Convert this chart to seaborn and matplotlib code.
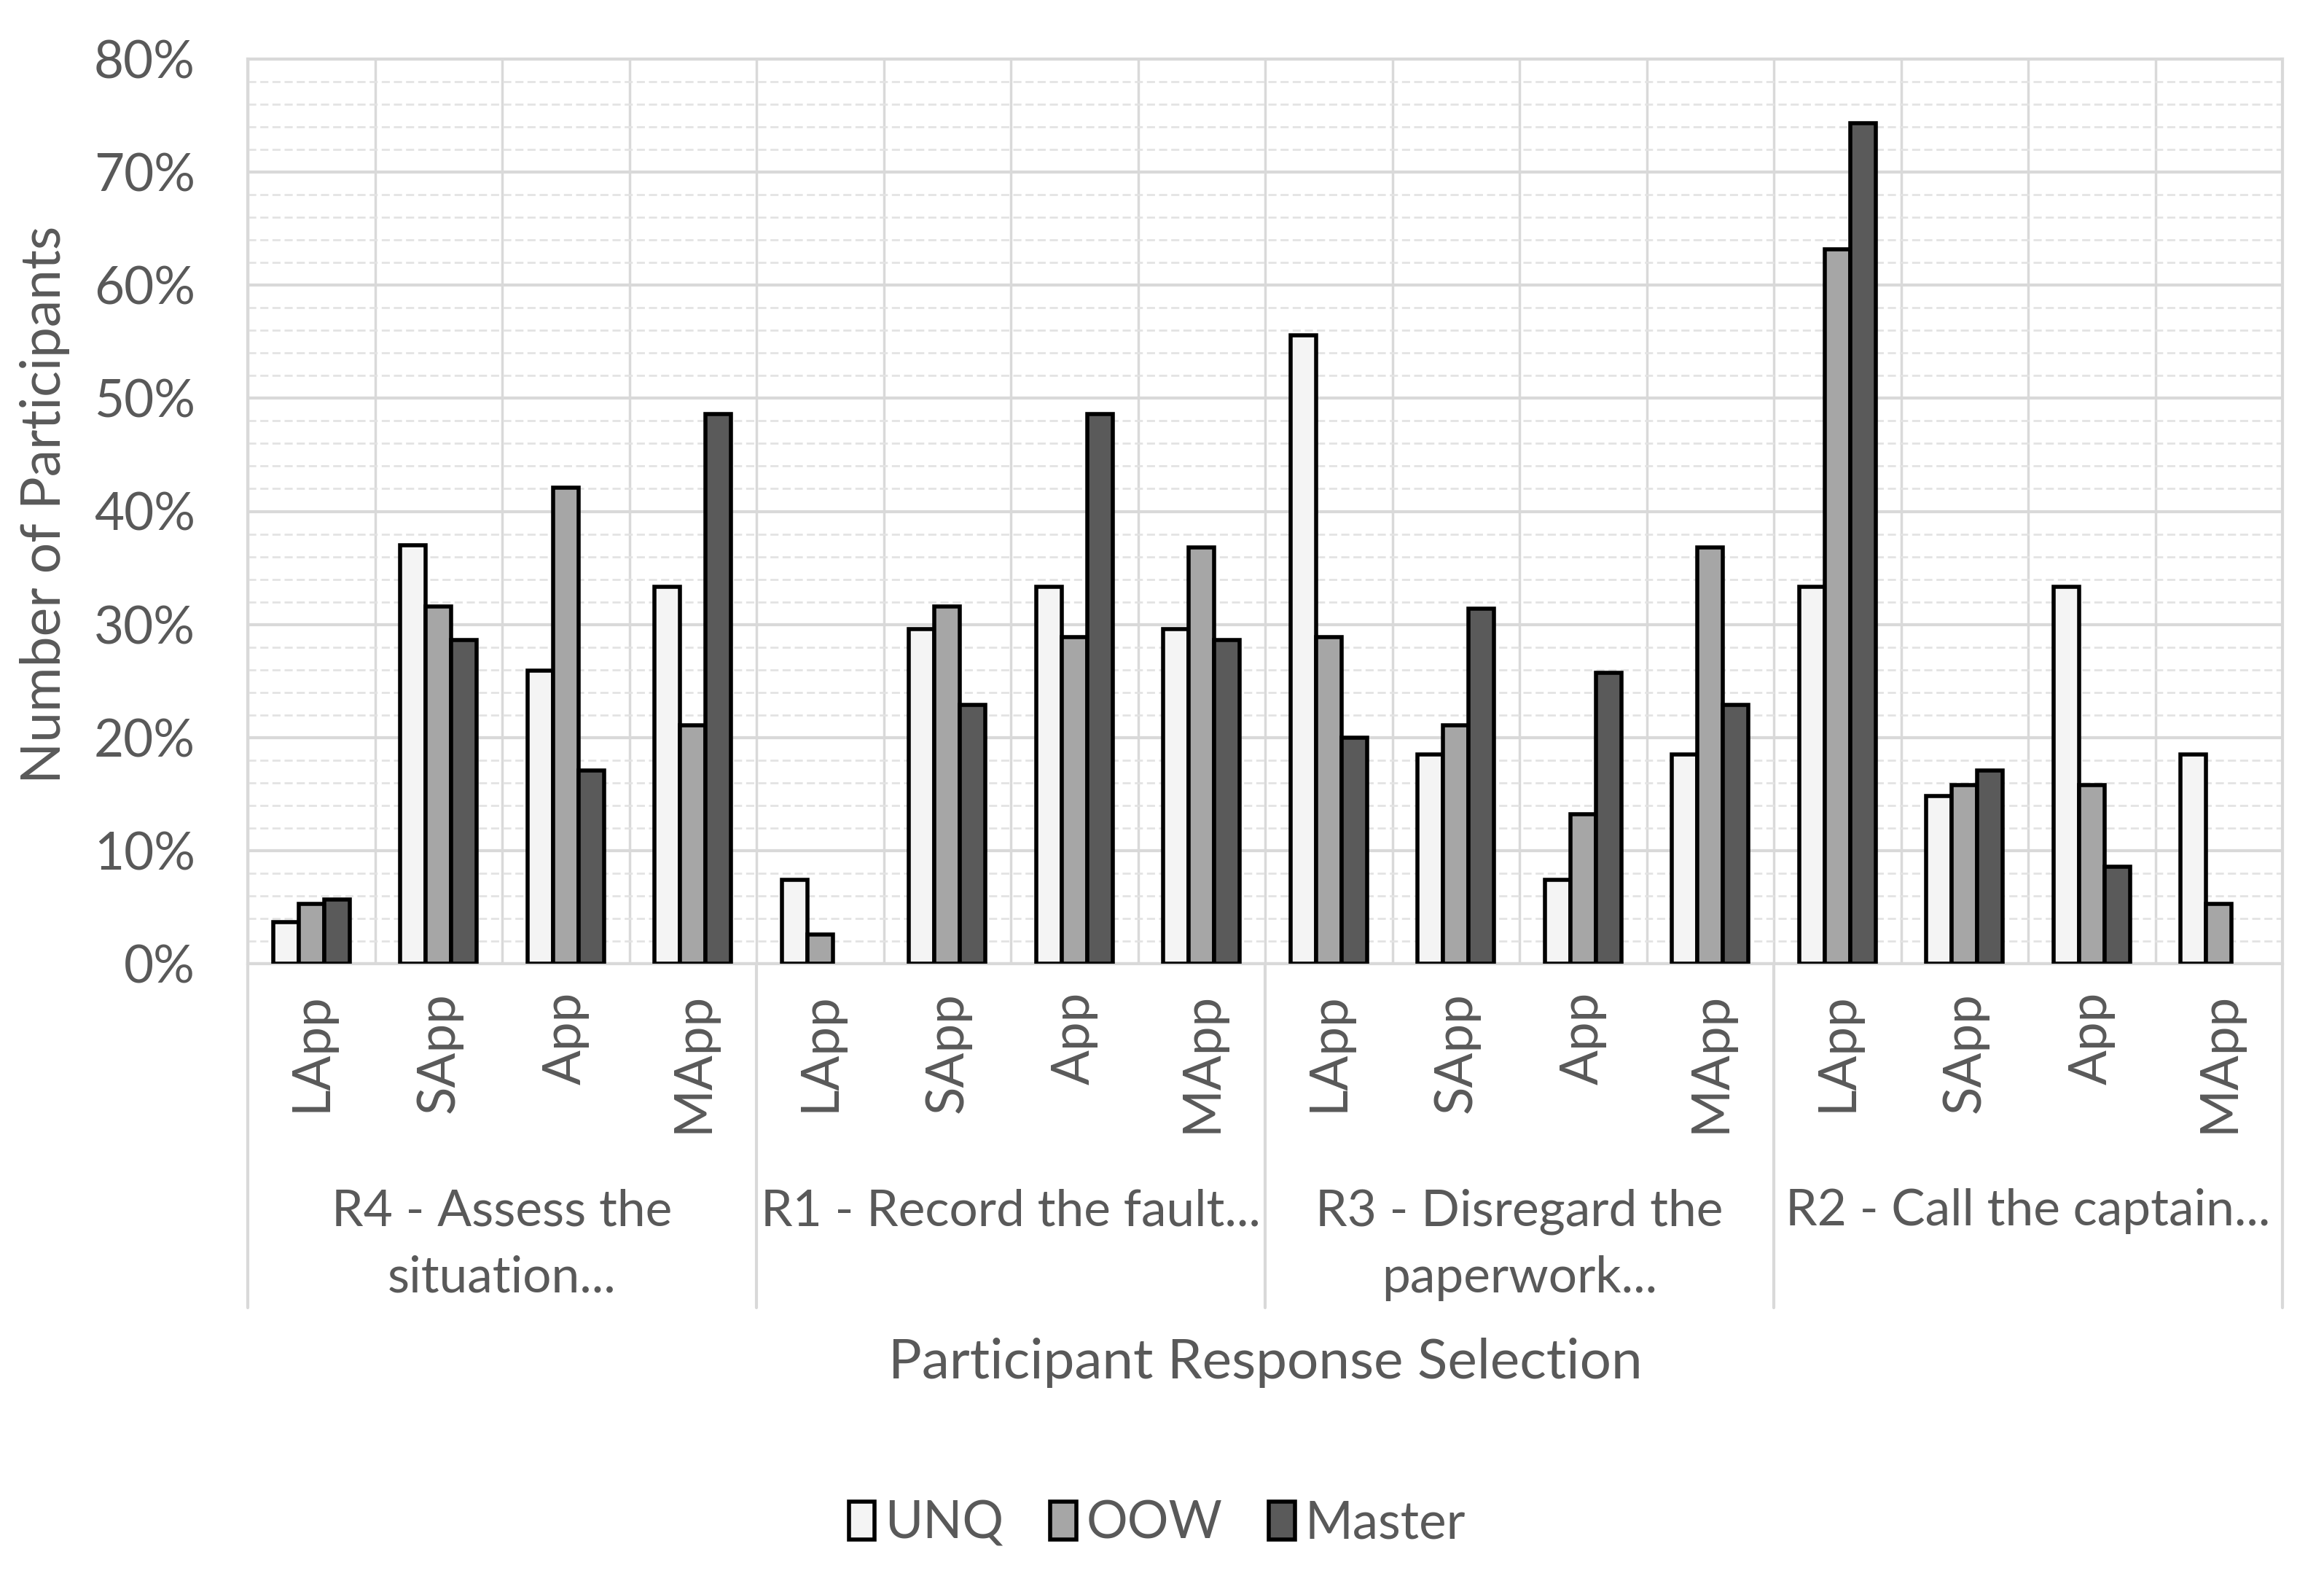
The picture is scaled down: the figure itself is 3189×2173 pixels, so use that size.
import numpy as np
import pandas as pd
import matplotlib
matplotlib.use("Agg")
import matplotlib.pyplot as plt
import matplotlib.transforms as mtrans
from matplotlib.patches import Patch
from matplotlib.ticker import PercentFormatter, MultipleLocator
import seaborn as sns

# ---------------- data ----------------
groups = ["R4 - Assess the\nsituation...", "R1 - Record the fault...",
          "R3 - Disregard the\npaperwork...", "R2 - Call the captain..."]
responses = ["LApp", "SApp", "App", "MApp"]
series = ["UNQ", "OOW", "Master"]
unq = [3.7, 37.0, 25.9, 33.3, 7.4, 29.6, 33.3, 29.6, 55.6, 18.5, 7.4, 18.5, 33.3, 14.8, 33.3, 18.5]
oow = [5.3, 31.6, 42.1, 21.1, 2.6, 31.6, 28.9, 36.8, 28.9, 21.1, 13.2, 36.8, 63.2, 15.8, 15.8, 5.3]
master = [5.7, 28.6, 17.1, 48.6, 0.0, 22.9, 48.6, 28.6, 20.0, 31.4, 25.7, 22.9, 74.3, 17.1, 8.6, 0.0]
colors = ["#f4f4f4", "#a6a6a6", "#5a5a5a"]

keys = [f"{g}|{r}" for g in groups for r in responses]
sub_labels = [r for g in groups for r in responses]
rows = []
for name, vals in zip(series, [unq, oow, master]):
    for k, v in zip(keys, vals):
        rows.append({"key": k, "series": name, "value": v})
df = pd.DataFrame(rows)

# ---------------- style ----------------
sns.set_theme(style="white")
plt.rcParams["font.family"] = ["Lato", "DejaVu Sans"]
txt = "#595959"
grid_c = "#d9d9d9"

W, H = 3189, 2173
fig = plt.figure(figsize=(W / 100, H / 100), dpi=100)
L, R, T, B = 340, 3132, 81, 1322
ax = fig.add_axes([L / W, 1 - B / H, (R - L) / W, (B - T) / H])

sns.barplot(data=df, x="key", y="value", hue="series", order=keys, hue_order=series,
            palette=colors, width=0.6, edgecolor="black", linewidth=4,
            saturation=1, errorbar=None, legend=False, ax=ax, zorder=3)
for p in ax.patches:
    if p.get_height() == 0:
        p.set_visible(False)

ax.set_ylim(0, 80)
ax.set_xlim(-0.5, len(keys) - 0.5)
ax.yaxis.set_major_locator(MultipleLocator(10))
ax.yaxis.set_minor_locator(MultipleLocator(2))
ax.yaxis.set_major_formatter(PercentFormatter(100, decimals=0))
ax.set_xticks(range(len(keys)))
ax.set_xticklabels(sub_labels, rotation=90, va="top", ha="center")
ax.set_xticks(np.arange(-0.5, len(keys), 1), minor=True)

ax.tick_params(axis="y", which="both", length=0, pad=52, labelsize=51, labelcolor=txt)
ax.tick_params(axis="x", which="both", length=0, pad=28, labelsize=51, labelcolor=txt)

ax.grid(which="major", axis="y", color=grid_c, lw=3, zorder=0)
ax.grid(which="minor", axis="y", color="#e3e3e3", lw=2, ls=(0, (4, 2)), zorder=0)
ax.grid(which="minor", axis="x", color=grid_c, lw=2.5, zorder=0)
ax.grid(which="major", axis="x", visible=False)
ax.set_axisbelow(True)
for s in ax.spines.values():
    s.set_color(grid_c)
    s.set_linewidth(3)

ax.set_xlabel("")
ax.set_ylabel("Number of Participants", fontsize=54, color=txt)
ax.yaxis.set_label_coords(96 / W, 1 - (T + B) / 2 / H + 0.004, transform=fig.transFigure)

# multi-level category axis
trans = mtrans.blended_transform_factory(ax.transData, ax.transAxes)
bot = -(1794 - B) / (B - T)
for i in range(len(groups) + 1):
    xb = i * len(responses) - 0.5
    ax.plot([xb, xb], [0, bot], transform=trans, color=grid_c, lw=3, clip_on=False)
for i, g in enumerate(groups):
    xc = i * len(responses) + (len(responses) - 1) / 2
    ax.text(xc, -(1630 - B) / (B - T), g, transform=trans, ha="center", va="top",
            fontsize=50, color=txt, linespacing=1.55)

fig.text((L + R) / 2 / W, 1 - 1870 / H, "Participant Response Selection",
         ha="center", va="center", fontsize=55, color=txt)

handles = [Patch(facecolor=c, edgecolor="black", linewidth=4) for c in colors]
fig.legend(handles, series, loc="center", bbox_to_anchor=(0.498, 1 - 2090 / H),
           ncol=3, frameon=False, fontsize=51, handlelength=0.5, handleheight=0.75,
           handletextpad=0.2, columnspacing=0.9, labelcolor=txt)

fig.savefig("out.png", dpi=100, facecolor="white")
